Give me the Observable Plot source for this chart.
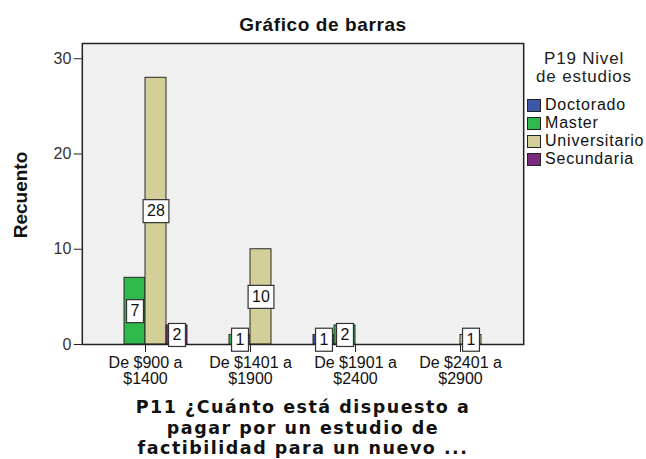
<!DOCTYPE html>
<html><head><meta charset="utf-8">
<script src="https://cdn.jsdelivr.net/npm/d3@7"></script>
<script src="https://cdn.jsdelivr.net/npm/@observablehq/plot@0.6"></script>
<style>
body{margin:0;background:#fff;font-family:"Liberation Sans",Arial,sans-serif;color:#111;}
#wrap{position:relative;width:646px;height:459px;overflow:hidden;}
#title{position:absolute;left:0;top:14px;width:646px;text-align:center;font-weight:bold;font-size:19px;letter-spacing:0.6px;}
#chart{position:absolute;left:0;top:40px;}
#ytitle{position:absolute;left:21px;top:195px;transform:translate(-50%,-50%) rotate(-90deg);font-weight:bold;font-size:19px;color:#111;white-space:nowrap;}
#legend{position:absolute;left:524px;top:50px;width:122px;}
#legend .lt{text-align:center;font-size:17px;line-height:18px;color:#222;letter-spacing:0.8px;margin-left:-2px;}
#legend .it{display:flex;align-items:center;height:18px;font-size:16px;color:#111;letter-spacing:0.8px;white-space:nowrap;}
#legend .sw{width:14px;height:13px;border:1px solid #222;margin-right:4px;box-sizing:border-box;flex:none;}
#legend .items{margin-top:10px;margin-left:3px;}
#xtitle{position:absolute;left:40px;width:526px;top:397px;text-align:center;font-family:"DejaVu Sans",sans-serif;font-weight:bold;font-size:17.5px;line-height:20.5px;color:#111;letter-spacing:1.5px;}
</style></head>
<body><div id="wrap">
<div id="title">Gráfico de barras</div>
<div id="chart"></div>
<div id="ytitle">Recuento</div>
<div id="legend"></div>
<div id="xtitle">P11 ¿Cuánto está dispuesto a<br>pagar por un estudio de<br>factibilidad para un nuevo ...</div>
</div>
<script>
const ranges = ["De $900 a $1400", "De $1401 a $1900", "De $1901 a $2400", "De $2401 a $2900"];
const tickLabels = ["De $900 a\n$1400", "De $1401 a\n$1900", "De $1901 a\n$2400", "De $2401 a\n$2900"];
const levels = ["Doctorado", "Master", "Universitario", "Secundaria"];
const colors = ["#3b57a8", "#2fb94c", "#d4cf99", "#7b2b7e"];
const doctorado = [0, 0, 1, 0];
const master = [7, 1, 2, 0];
const universitario = [28, 10, 0, 1];
const secundaria = [2, 0, 0, 0];
const yTicks = [0, 10, 20, 30];

const series = [doctorado, master, universitario, secundaria];
const data = [];
ranges.forEach((r, i) => levels.forEach((l, j) => {
  if (series[j][i] > 0) data.push({range: r, level: l, count: series[j][i]});
}));

const num = v => (v != null && /^-?[\d.]+$/.test(v)) ? +v : 0;
function boxRender(index, scales, values, dimensions, context, next) {
  const g = next(index, scales, values, dimensions, context);
  const ns = "http://www.w3.org/2000/svg";
  const ctx = document.createElement("canvas").getContext("2d");
  ctx.font = "16px 'Liberation Sans'";
  for (const t of Array.from(g.querySelectorAll("text"))) {
    const w = ctx.measureText(t.textContent).width + 8;
    const h = 23;
    const rect = document.createElementNS(ns, "rect");
    const bx = num(t.getAttribute("x")), by = num(t.getAttribute("y"));
    if (t.hasAttribute("transform")) rect.setAttribute("transform", t.getAttribute("transform"));
    rect.setAttribute("x", bx - w / 2);
    rect.setAttribute("y", by - h / 2);
    rect.setAttribute("width", w);
    rect.setAttribute("height", h);
    rect.setAttribute("fill", "#fff");
    rect.setAttribute("stroke", "#333");
    rect.setAttribute("stroke-width", 1.2);
    t.parentNode.insertBefore(rect, t);
  }
  return g;
}

const W = 646, ML = 80, MR = 121, FXPAD = 0.2;
// facets leave an outer padding; the frame and y axis are extended back to the margins
const fxStep = (W - ML - MR) / (ranges.length - FXPAD + 2 * FXPAD);
const outerPad = -FXPAD * fxStep;

const chart = Plot.plot({
  width: W,
  height: 350,
  marginLeft: ML,
  marginRight: MR,
  marginTop: 3,
  marginBottom: 46,
  style: {fontFamily: "'Liberation Sans', Arial, sans-serif", fontSize: "16px", background: "transparent", color: "#222"},
  fx: {domain: ranges, paddingInner: FXPAD, paddingOuter: FXPAD, label: null},
  x: {domain: levels, padding: 0, axis: null},
  y: {domain: [0, 31.6], label: null},
  color: {domain: levels, range: colors},
  marks: [
    Plot.frame({facet: "super", fill: "#f0f0f0", stroke: "none", insetLeft: outerPad, insetRight: outerPad}),
    Plot.barY(data, {fx: "range", x: "level", y: "count", fill: "level", stroke: "#2a2a2a", strokeWidth: 1}),
    Plot.frame({facet: "super", stroke: "#222", strokeWidth: 1.5, insetLeft: outerPad, insetRight: outerPad}),
    Plot.axisY({facetAnchor: "left", dx: outerPad, ticks: yTicks, tickSize: 8, tickPadding: 3, label: null,
      fontSize: 16, stroke: "#222", fill: "#333"}),
    Plot.axisFx({anchor: "bottom", tickSize: 8, tickPadding: 4, label: null, fontSize: 16, lineHeight: 1.0,
      stroke: "#222", fill: "#111", tickFormat: d => tickLabels[ranges.indexOf(d)]}),
    Plot.text(data, {fx: "range", x: "level", y: d => d.count / 2, text: d => String(d.count), fontSize: 16, fill: "#111", render: boxRender})
  ]
});
document.getElementById("chart").appendChild(chart);

const legend = document.getElementById("legend");
legend.innerHTML = '<div class="lt">P19 Nivel<br>de estudios</div><div class="items">' +
  levels.map((l, i) => `<div class="it"><span class="sw" style="background:${colors[i]}"></span>${l}</div>`).join("") + '</div>';
</script>
</body></html>
